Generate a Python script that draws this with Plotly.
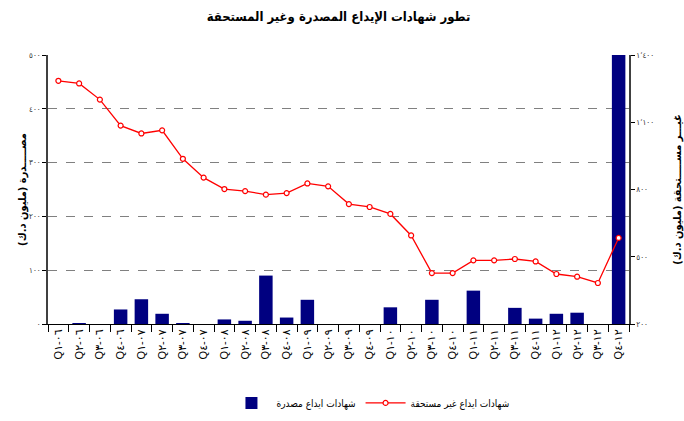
import plotly.graph_objects as go

# ---- data ----
quarter_labels = [
    "Q١-٠٦", "Q٢-٠٦", "Q٣-٠٦", "Q٤-٠٦",
    "Q١-٠٧", "Q٢-٠٧", "Q٣-٠٧", "Q٤-٠٧",
    "Q١-٠٨", "Q٢-٠٨", "Q٣-٠٨", "Q٤-٠٨",
    "Q١-٠٩", "Q٢-٠٩", "Q٣-٠٩", "Q٤-٠٩",
    "Q١-١٠", "Q٢-١٠", "Q٣-١٠", "Q٤-١٠",
    "Q١-١١", "Q٢-١١", "Q٣-١١", "Q٤-١١",
    "Q١-١٢", "Q٢-١٢", "Q٣-١٢", "Q٤-١٢",
]
issued = [0, 0.5, 0, 27, 46, 19, 1, 0, 8.5, 6, 90, 12, 45, 0,
          0, 0, 31, 0, 45, 0, 62, 0, 30, 10, 19, 21, 0, 500]
outstanding = [1285, 1273, 1201, 1085, 1050, 1064, 937, 853, 802, 793,
               777, 784, 827, 814, 735, 722, 691, 595, 427, 427,
               484, 484, 490, 479, 423, 411, 383, 584]

left_tickvals = [0, 100, 200, 300, 400, 500]
left_ticktext = ["٠", "١٠٠", "٢٠٠", "٣٠٠", "٤٠٠", "٥٠٠"]
right_tickvals = [200, 500, 800, 1100, 1400]
right_ticktext = ["٢٠٠", "٥٠٠", "٨٠٠", "١٬١٠٠", "١٬٤٠٠"]

title_text = "تطور شهادات الإيداع المصدرة وغير المستحقة"
left_title = "مصـــــدرة (مليون د.ك)"
right_title = "غيـــر مســـــتحقة (مليون د.ك)"
bar_name = "شهادات ايداع مصدرة"
line_name = "شهادات ايداع غير مستحقة"

LRM = "\u200e"


def ltr(label):
    # keep visual order Q, quarter, hyphen, year
    return label.replace("-", LRM + "-" + LRM)


x_labels = [ltr(q) for q in quarter_labels]

FONT = "DejaVu Sans Condensed, DejaVu Sans, sans-serif"

fig = go.Figure()
fig.add_trace(go.Bar(
    x=x_labels, y=issued, name=bar_name,
    marker=dict(color="#000080", line=dict(width=0)),
    width=0.65, yaxis="y",
))
fig.add_trace(go.Scatter(
    x=x_labels, y=outstanding, name=line_name, yaxis="y2",
    mode="lines+markers",
    line=dict(color="#FF0000", width=1.3),
    marker=dict(symbol="circle", size=5, color="white",
                line=dict(color="#FF0000", width=1.2)),
))

fig.update_layout(
    width=684, height=421,
    margin=dict(l=48, r=55, t=55, b=97),
    paper_bgcolor="white", plot_bgcolor="white",
    font=dict(family=FONT, color="black", size=10),
    title=dict(text="<b>" + title_text + "</b>", x=0.5, xref="paper",
               xanchor="center", y=0.96, yanchor="middle",
               font=dict(size=13, family=FONT)),
    showlegend=True,
    legend=dict(orientation="h", x=0.555, xanchor="center",
                yref="container", y=0.043, yanchor="middle",
                font=dict(size=10), traceorder="normal",
                itemwidth=40),
    xaxis=dict(
        type="category", range=[-0.5, 27.5],
        tickangle=-90, tickson="boundaries", ticks="outside", ticklen=7,
        tickcolor="black", showline=True, linecolor="black", linewidth=1,
        tickfont=dict(size=11, family="Liberation Sans, DejaVu Sans"),
        showgrid=False, automargin=False,
    ),
    yaxis=dict(
        range=[0, 500], tickvals=left_tickvals, ticktext=left_ticktext,
        showgrid=True, gridcolor="#808080", griddash="dash", gridwidth=1,
        showline=True, linecolor="#404040", linewidth=1.5,
        ticks="outside", ticklen=4, tickcolor="black",
        tickfont=dict(size=8, color="#333333"), zeroline=False,
        automargin=False,
        title=dict(text="<b>" + left_title + "</b>", standoff=0,
                   font=dict(size=11)),
    ),
    yaxis2=dict(
        range=[200, 1400], tickvals=right_tickvals, ticktext=right_ticktext,
        overlaying="y", side="right", showgrid=False,
        showline=True, linecolor="#404040", linewidth=1.5,
        ticks="outside", ticklen=4, tickcolor="black",
        tickfont=dict(size=8, color="#333333"), zeroline=False,
        automargin=False,
        title=dict(text="<b>" + right_title + "</b>", standoff=22,
                   font=dict(size=11)),
    ),
)

fig.write_html("out.html", config={"displayModeBar": False},
               post_script="document.body.style.margin='0';")
